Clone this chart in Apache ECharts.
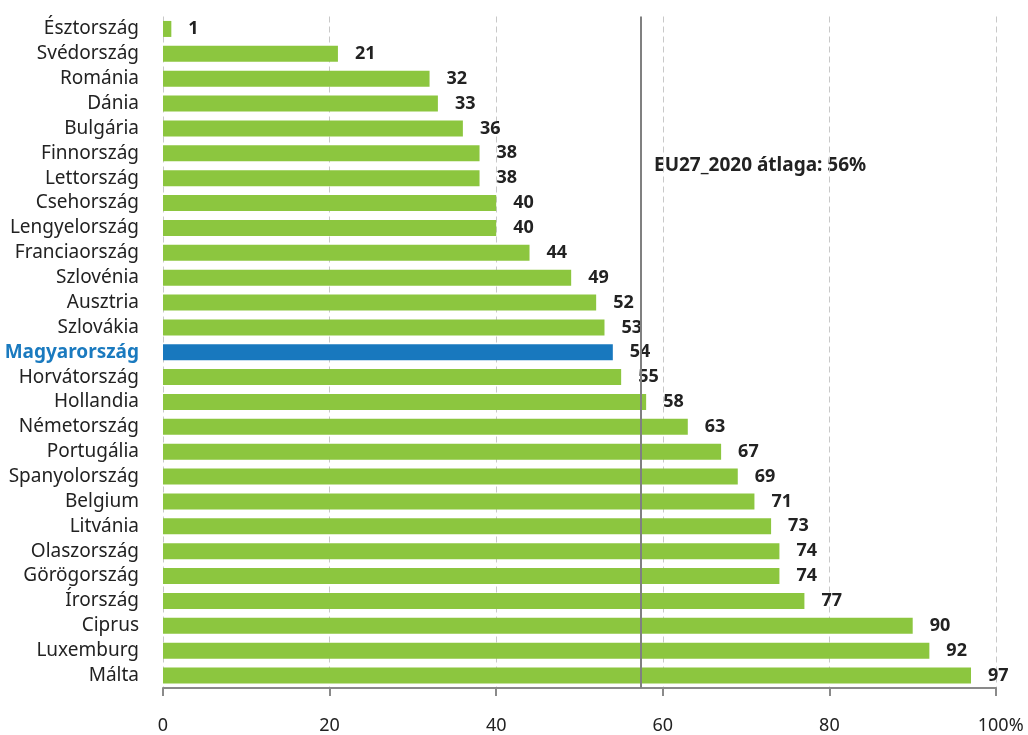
<!DOCTYPE html>
<html><head><meta charset="utf-8">
<script src="https://cdn.jsdelivr.net/npm/echarts@6/dist/echarts.min.js"></script>
<style>html,body{margin:0;padding:0;background:#fff}#c{width:1028px;height:735px}</style>
</head><body><div id="c"></div>
<script>
const categories = ["Észtország","Svédország","Románia","Dánia","Bulgária","Finnország","Lettország","Csehország","Lengyelország","Franciaország","Szlovénia","Ausztria","Szlovákia","Magyarország","Horvátország","Hollandia","Németország","Portugália","Spanyolország","Belgium","Litvánia","Olaszország","Görögország","Írország","Ciprus","Luxemburg","Málta"];
const values = [1,21,32,33,36,38,38,40,40,44,49,52,53,54,55,58,63,67,69,71,73,74,74,77,90,92,97];
const highlight = "Magyarország";
const avgLine = 57.4;
const avgLabel = "EU27_2020 átlaga: 56%";
const xTicks = [0,20,40,60,80,100];

const font = "'Noto Sans', 'Open Sans', sans-serif";
const chart = echarts.init(document.getElementById('c'));
chart.setOption({
  animation:false,
  grid:{left:163,right:32,top:16.5,bottom:46.5,containLabel:false},
  xAxis:{type:'value',min:0,max:100,interval:20,
    axisLine:{show:true,lineStyle:{color:'#8a8a8a',width:2}},
    axisTick:{show:true,length:8,lineStyle:{color:'#8a8a8a',width:2}},
    axisLabel:{margin:29,color:'#222',fontSize:18,fontFamily:font,
      formatter:v=>v===100?'  100%':String(v)},
    splitLine:{show:true,lineStyle:{color:'#c8c8c8',type:[6,4],width:1}}},
  yAxis:{type:'category',data:categories,inverse:true,
    axisLine:{show:false},axisTick:{show:false},
    axisLabel:{margin:24,fontSize:19,fontFamily:font,color:'#222',
      formatter:v=>v===highlight?'{h|'+v+'}':v,
      rich:{h:{color:'#1a7abf',fontWeight:'bold',fontSize:19,fontFamily:font}}}},
  series:[{type:'bar',barWidth:16,
    data:values.map((v,i)=>({value:v,itemStyle:{color:categories[i]===highlight?'#1878be':'#8cc63f'}})),
    label:{show:true,position:'right',distance:17,fontSize:18,fontWeight:'bold',color:'#222',fontFamily:font},
    markLine:{silent:true,symbol:'none',label:{show:false},
      lineStyle:{color:'#808080',width:2,type:'solid'},
      data:[{xAxis:avgLine}]}
  }],
  graphic:[{type:'text',left:654,top:156,style:{text:avgLabel,fontSize:19,fontWeight:'bold',fill:'#222',fontFamily:font}}]
});
</script></body></html>
